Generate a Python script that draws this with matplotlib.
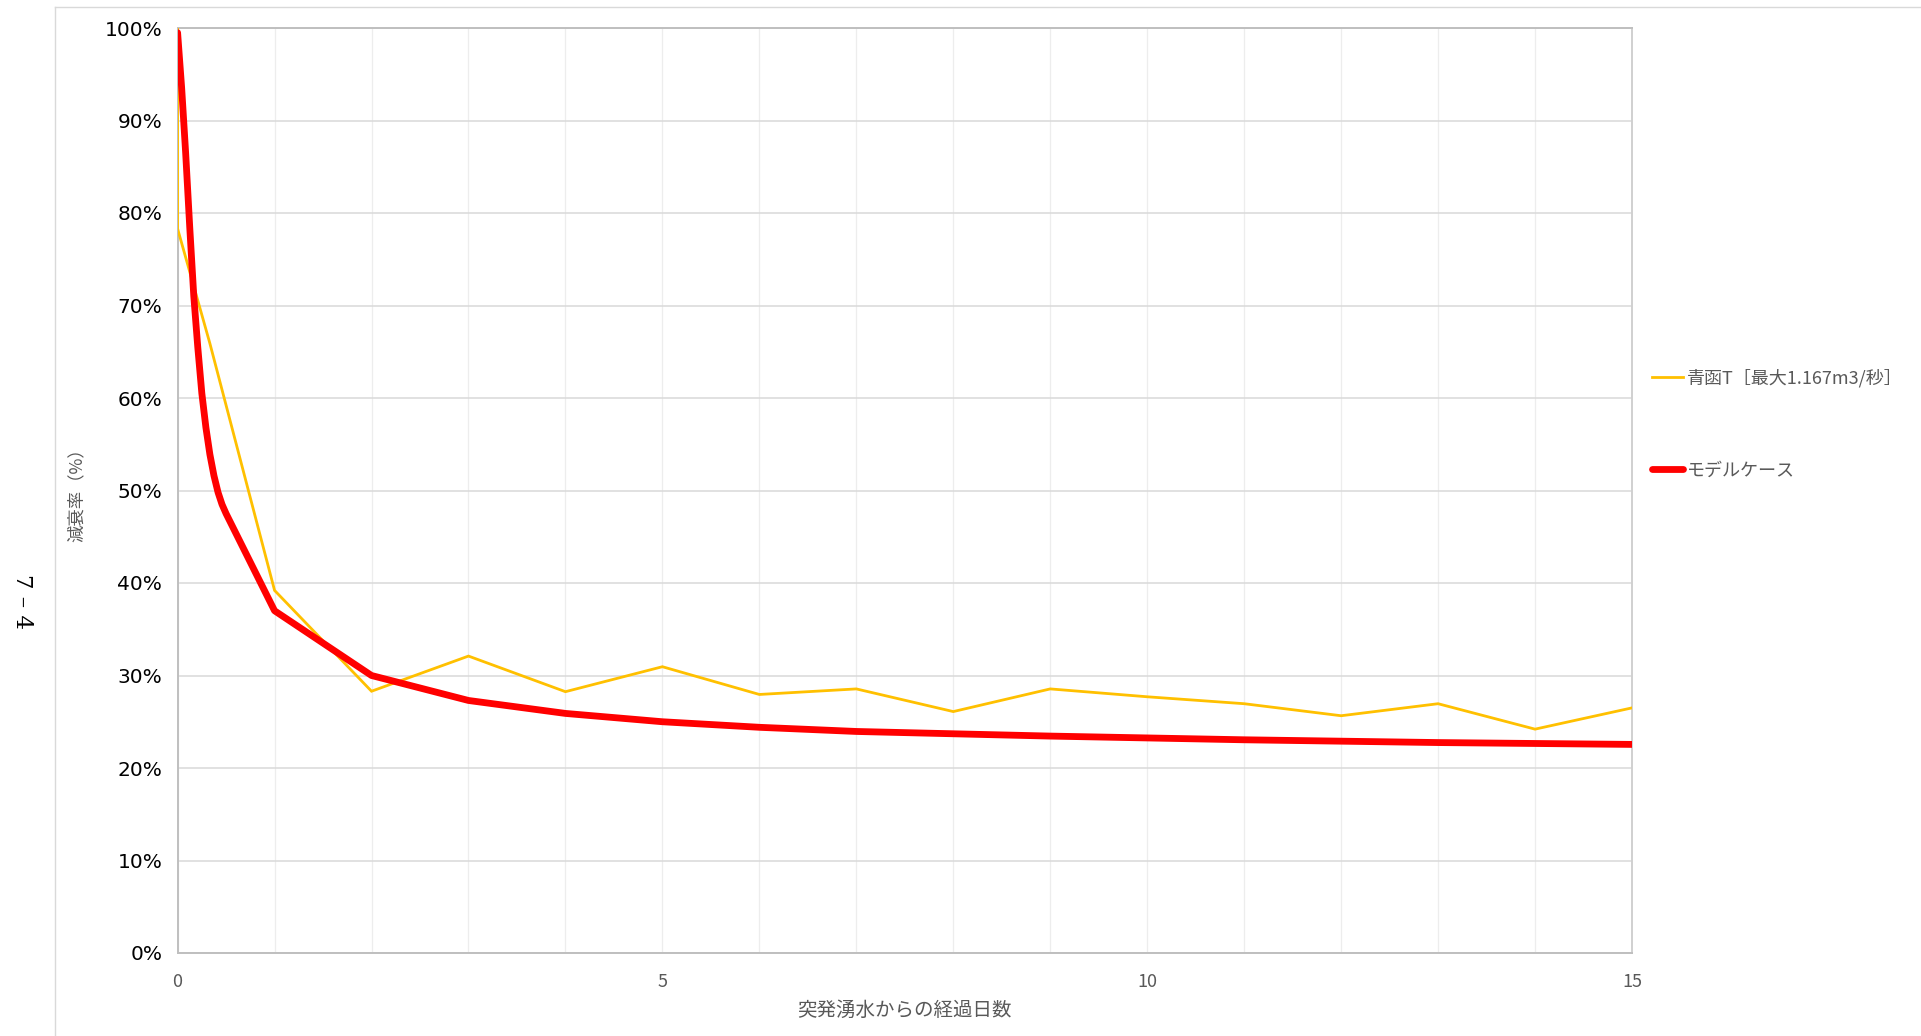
import matplotlib
matplotlib.use("Agg")
import matplotlib.pyplot as plt
from matplotlib.lines import Line2D
from matplotlib.ticker import FixedLocator, FuncFormatter

# ---- data (days since inrush, decay rate in %) ----
seikan_days = [0, 0, 0.333, 1, 2, 3, 4, 5, 6, 7, 8, 9, 10, 11, 12, 13, 14, 15]
seikan_rate = [100.0, 78.3, 65.9, 39.2, 28.3, 32.1, 28.25, 30.95, 27.95, 28.55,
               26.1, 28.55, 27.7, 26.95, 25.65, 26.95, 24.2, 26.5]

model_days = [0, 0.042, 0.083, 0.125, 0.167, 0.208, 0.25, 0.292, 0.333, 0.375,
              0.417, 0.458, 0.5, 1, 2, 3, 4, 5, 6, 7, 8, 9, 10, 11, 12, 13, 14, 15]
model_rate = [99.5, 93.5, 86.5, 78.5, 71.0, 65.5, 60.5, 56.8, 53.9, 51.6,
              49.8, 48.5, 47.5, 37.0, 30.0, 27.3, 25.9, 25.0, 24.4, 23.95,
              23.7, 23.45, 23.25, 23.05, 22.9, 22.75, 22.65, 22.55]

series_labels = ["青函T［最大1.167m3/秒］", "モデルケース"]
y_ticks = [0, 10, 20, 30, 40, 50, 60, 70, 80, 90, 100]
x_ticks = [0, 5, 10, 15]
x_grid = list(range(0, 16))

x_title = "突発湧水からの経過日数"
y_title = "減衰率（%）"
side_note = "7 – 4"

CJK = ["Noto Sans CJK JP", "DejaVu Sans"]
GREY_TXT = "#595959"

W, H = 1921, 1036
fig = plt.figure(figsize=(W / 100, H / 100), dpi=100)
fig.patch.set_facecolor("white")

# outer chart-area border (left and top edges)
fig.add_artist(Line2D([55 / W, 55 / W], [0, 1 - 7 / H], transform=fig.transFigure,
                      color="#D9D9D9", lw=1.0))
fig.add_artist(Line2D([55 / W, 1], [1 - 7 / H, 1 - 7 / H], transform=fig.transFigure,
                      color="#D9D9D9", lw=1.0))

left, right, top, bottom = 177.6, 1632, 28, 953
ax = fig.add_axes([left / W, 1 - bottom / H, (right - left) / W, (bottom - top) / H])

ax.plot(seikan_days, seikan_rate, color="#FFC000", lw=2.0, zorder=3,
        solid_joinstyle="miter", label=series_labels[0])
ax.plot(model_days, model_rate, color="#FF0000", lw=4.9, zorder=4,
        solid_joinstyle="round", solid_capstyle="round", label=series_labels[1])

ax.set_xlim(0, 15)
ax.set_ylim(0, 100)

# gridlines
for xv in x_grid:
    ax.axvline(xv, color="#EDEDED", lw=0.9, zorder=1)
for yv in y_ticks:
    ax.axhline(yv, color="#D9D9D9", lw=1.1, zorder=1)

ax.xaxis.set_major_locator(FixedLocator(x_ticks))
ax.yaxis.set_major_locator(FixedLocator(y_ticks))
ax.yaxis.set_major_formatter(FuncFormatter(lambda v, p: f"{int(v)}%"))
ax.tick_params(axis="both", length=0)
ax.tick_params(axis="y", pad=11, labelsize=14.5, labelcolor="black")
ax.tick_params(axis="x", pad=14.5, labelsize=13, labelcolor=GREY_TXT)
for lab in ax.get_yticklabels():
    lab.set_family("DejaVu Sans")
for lab in ax.get_xticklabels():
    lab.set_family(CJK)

for side, col in [("left", "#BFBFBF"), ("bottom", "#BFBFBF"),
                  ("top", "#BFBFBF"), ("right", "#D0D0D0")]:
    ax.spines[side].set_color(col)
    ax.spines[side].set_linewidth(1.4)

ax.set_xlabel(x_title, family=CJK, fontsize=14, color=GREY_TXT)
ax.xaxis.set_label_coords(0.5, -(1010 - bottom) / (bottom - top))
ax.xaxis.label.set_va("center")
ax.set_ylabel(y_title, family=CJK, fontsize=12.5, color=GREY_TXT)
ax.yaxis.set_label_coords((77 - left) / (right - left), 0.5)
ax.yaxis.label.set_va("center")

leg = ax.legend(loc="upper left", bbox_to_anchor=(1652 / W, 1 - 369 / H),
                bbox_transform=fig.transFigure, frameon=False,
                prop={"family": CJK, "size": 13}, labelspacing=4.1,
                handlelength=1.7, handletextpad=0.22, borderpad=0,
                borderaxespad=0)
for t in leg.get_texts():
    t.set_color(GREY_TXT)

fig.text(22 / W, 1 - 601 / H, side_note, rotation=-90, family="DejaVu Serif",
         fontsize=16.5, color="black", ha="center", va="center")

fig.savefig("out.png", dpi=100, facecolor="white")
